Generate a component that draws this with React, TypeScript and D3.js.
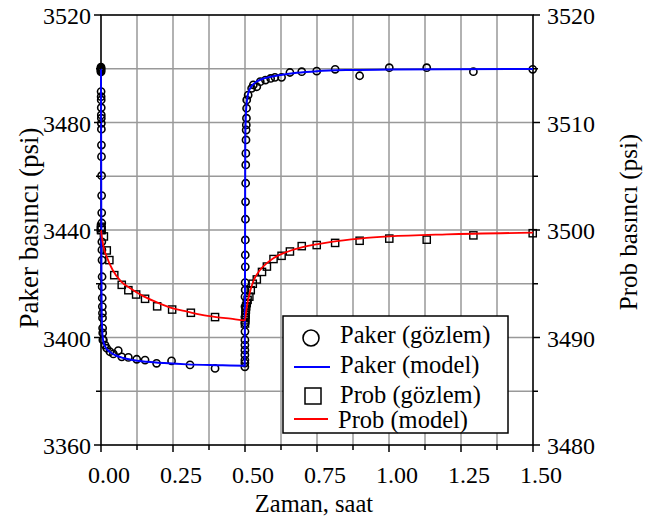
import React from 'react';
import * as d3 from 'd3';

// ---------- data ----------
const xTickValues = [0, 0.25, 0.5, 0.75, 1.0, 1.25, 1.5];
const xTickLabels = ['0.00', '0.25', '0.50', '0.75', '1.00', '1.25', '1.50'];
const xGridValues = [0.125, 0.25, 0.375, 0.5, 0.625, 0.75, 0.875, 1.0, 1.125, 1.25, 1.375];
const xMinorTicks = [0.125, 0.375, 0.625, 0.875, 1.125, 1.375];
const leftTickValues = [3360, 3400, 3440, 3480, 3520];
const leftMinorTicks = [3380, 3420, 3460, 3500];
const leftGridValues = [3380, 3400, 3420, 3440, 3460, 3480, 3500];
const rightTickValues = [3480, 3490, 3500, 3510, 3520];
const rightMinorTicks = [3485, 3495, 3505, 3515];

const pakerObsT = [
  0, 0, 0, 0, 0, 0, 0.0003, 0.0005, 0.0007, 0.0009, 0.001, 0.0011, 0.0012, 0.0013, 0.0015, 0.0017,
  0.002, 0.0022, 0.0025, 0.0027, 0.003, 0.0032, 0.0035, 0.0038, 0.004, 0.0043, 0.0046, 0.005, 0.0053,
  0.0056, 0.006, 0.0065,
  0.008, 0.014, 0.020, 0.031, 0.043, 0.060, 0.072, 0.095, 0.124, 0.153, 0.193, 0.245, 0.309, 0.396,
  0.4995, 0.4995, 0.4996, 0.4996, 0.4997, 0.4997, 0.4998, 0.4999, 0.5, 0.5, 0.5, 0.5, 0.5005, 0.5005,
  0.501, 0.501, 0.5012, 0.5015, 0.502, 0.5023, 0.5026, 0.503, 0.5035, 0.504, 0.5045, 0.505, 0.5055,
  0.506, 0.511, 0.523, 0.529, 0.541, 0.553, 0.571, 0.589, 0.604, 0.627, 0.656, 0.697, 0.749, 0.813,
  0.898, 1.001, 1.131, 1.293, 1.499,
];
const pakerObsP = [
  3500.6, 3500.3, 3499.9, 3499.5, 3499.2, 3498.8, 3491.5, 3489.6, 3488.4, 3485.5, 3482.8, 3481.6,
  3479.7, 3477.5, 3471.6, 3467.3, 3460.2, 3452.8, 3446.4, 3442.6, 3435.6, 3432.6, 3428.8, 3422.6,
  3418.9, 3414.7, 3411.5, 3409.1, 3407.3, 3403.5, 3401.7, 3399.1,
  3399.1, 3397.2, 3396.0, 3394.7, 3393.9, 3395.1, 3392.8, 3392.6, 3391.9, 3391.6, 3390.4, 3391.3,
  3389.8, 3388.5,
  3389.1, 3390.5, 3391.6, 3393.5, 3395.3, 3397.2, 3399.1, 3402.2, 3405.4, 3407.7, 3411.5, 3415.2,
  3417.7, 3420.4, 3426.3, 3430.7, 3436.3, 3444.0, 3450.5, 3457.4, 3464.2, 3468.5, 3473.5, 3477.2,
  3479.1, 3481.6, 3485.3,
  3488.4, 3490.2, 3492.7, 3494.0, 3493.3, 3495.2, 3495.8, 3496.4, 3496.8, 3496.8, 3498.6, 3498.9,
  3499.1, 3499.8, 3497.4, 3500.4, 3500.4, 3498.9, 3499.8,
];

const pakerModelT = [
  0, 0.0005, 0.001, 0.002, 0.004, 0.008, 0.015, 0.03, 0.05, 0.077, 0.11, 0.16, 0.22, 0.3, 0.4, 0.499,
  0.4995, 0.5, 0.5005, 0.501, 0.503, 0.506, 0.51, 0.516, 0.525, 0.54, 0.56, 0.59, 0.63, 0.68, 0.75,
  0.85, 1.0, 1.2, 1.5,
];
const pakerModelP = [
  3500, 3470, 3440, 3412, 3403, 3398.5, 3396.5, 3394.7, 3393.4, 3392.4, 3391.6, 3391.0, 3390.5,
  3390.0, 3389.7, 3389.5,
  3400, 3425, 3455, 3474, 3483, 3487.5, 3490.3, 3492.3, 3493.8, 3495.2, 3496.2, 3497.0, 3497.8,
  3498.5, 3499.1, 3499.5, 3499.7, 3499.85, 3499.9,
];

const probObsT = [
  0, 0, 0.001, 0.002, 0.010, 0.020, 0.029, 0.046, 0.072, 0.095, 0.122, 0.153, 0.195, 0.247, 0.312,
  0.396,
  0.5, 0.5005, 0.501, 0.5015, 0.502, 0.503, 0.504, 0.506, 0.509, 0.515, 0.52, 0.527, 0.541, 0.559,
  0.576, 0.599, 0.627, 0.656, 0.697, 0.749, 0.813, 0.898, 1.001, 1.131, 1.293, 1.499,
];
const probObsP = [
  3500.2, 3500.0, 3500.3, 3500.0, 3499.4, 3498.1, 3497.2, 3495.8, 3494.9, 3494.4, 3494.0, 3493.6,
  3492.9, 3492.6, 3492.3, 3491.9,
  3491.3, 3491.6, 3491.8, 3492.1, 3492.3, 3492.6, 3492.9, 3493.2, 3493.5, 3493.8, 3494.4, 3495.0,
  3495.4, 3496.1, 3496.6, 3497.3, 3497.6, 3498.0, 3498.5, 3498.6, 3498.8, 3499.0, 3499.2, 3499.1,
  3499.5, 3499.7,
];

const probModelT = [
  0, 0.005, 0.01, 0.02, 0.04, 0.07, 0.1, 0.15, 0.2, 0.25, 0.3, 0.35, 0.4, 0.45, 0.5, 0.505, 0.51,
  0.52, 0.53, 0.55, 0.575, 0.6, 0.65, 0.7, 0.8, 0.9, 1.0, 1.2, 1.5,
];
const probModelP = [
  3500, 3499, 3498.3, 3497.5, 3496.3, 3495.2, 3494.6, 3493.8, 3493.2, 3492.7, 3492.4, 3492.1,
  3491.9, 3491.75, 3491.6, 3492.6, 3493.4, 3494.5, 3495.3, 3496.2, 3496.9, 3497.4, 3498.0, 3498.4,
  3498.9, 3499.2, 3499.4, 3499.6, 3499.75,
];

const legendLabels = ['Paker (gözlem)', 'Paker (model)', 'Prob (gözlem)', 'Prob (model)'];
const xTitle = 'Zaman, saat';
const leftTitle = 'Paker basıncı (psi)';
const rightTitle = 'Prob basıncı (psi)';

// ---------- layout ----------
const W = 646;
const H = 522;
const L = 101;
const R = 533;
const T = 15;
const B = 445;
const FONT = 'Liberation Serif';
const FS = 24;

const ts = (size: number): React.CSSProperties => ({ fontFamily: FONT, fontSize: size });

export default function App() {
  const x = d3.scaleLinear().domain([0, 1.5]).range([L, R]);
  const yL = d3.scaleLinear().domain([3360, 3520]).range([B, T]);
  const yR = d3.scaleLinear().domain([3480, 3520]).range([B, T]);

  const pakerLine = d3
    .line<number>()
    .x((_, i) => x(pakerModelT[i]))
    .y((d) => yL(d))
    .curve(d3.curveMonotoneX);
  const probLine = d3
    .line<number>()
    .x((_, i) => x(probModelT[i]))
    .y((d) => yR(d))
    .curve(d3.curveMonotoneX);

  const grid = '#999999';

  return (
    <svg
      width={W}
      height={H}
      style={{ position: 'absolute', left: 0, top: 0, display: 'block', background: '#fff', fontFamily: FONT }}
    >
      <defs>
        <clipPath id="plotClip">
          <rect x={L - 6} y={T - 6} width={R - L + 12} height={B - T + 12} />
        </clipPath>
      </defs>
      {/* grid */}
      {xGridValues.map((v) => (
        <line key={'gx' + v} x1={x(v)} x2={x(v)} y1={T} y2={B} stroke={grid} strokeWidth={1.5} />
      ))}
      {leftGridValues.map((v) => (
        <line key={'gy' + v} x1={L} x2={R} y1={yL(v)} y2={yL(v)} stroke={grid} strokeWidth={1.5} />
      ))}

      {/* frame */}
      <rect x={L} y={T} width={R - L} height={B - T} fill="none" stroke="#000" strokeWidth={1.6} />

      {/* observed markers */}
      <g clipPath="url(#plotClip)">
        {pakerObsP.map((p, i) => (
          <circle
            key={'pc' + i}
            cx={x(pakerObsT[i])}
            cy={yL(p)}
            r={3.6}
            fill="none"
            stroke="#000"
            strokeWidth={1.6}
          />
        ))}
        {probObsP.map((p, i) => (
          <rect
            key={'ps' + i}
            x={x(probObsT[i]) - 3.6}
            y={yR(p) - 3.6}
            width={7.2}
            height={7.2}
            fill="none"
            stroke="#000"
            strokeWidth={1.4}
          />
        ))}
        {/* model lines */}
        <path d={pakerLine(pakerModelP) || ''} fill="none" stroke="#0000ff" strokeWidth={2} />
        <path d={probLine(probModelP) || ''} fill="none" stroke="#ff0000" strokeWidth={1.8} />
      </g>

      {/* bottom axis */}
      {xTickValues.map((v, i) => (
        <g key={'xt' + v}>
          <line x1={x(v)} x2={x(v)} y1={B} y2={B + 7} stroke="#000" strokeWidth={1.5} />
          <text x={x(v) + 8} y={483} textAnchor="middle" style={ts(FS)}>
            {xTickLabels[i]}
          </text>
        </g>
      ))}
      {xMinorTicks.map((v) => (
        <line key={'xm' + v} x1={x(v)} x2={x(v)} y1={B} y2={B + 5} stroke="#000" strokeWidth={1.5} />
      ))}
      <text x={314} y={512} textAnchor="middle" style={ts(24.5)}>
        {xTitle}
      </text>

      {/* left axis */}
      {leftTickValues.map((v) => (
        <g key={'lt' + v}>
          <line x1={L - 7} x2={L} y1={yL(v)} y2={yL(v)} stroke="#000" strokeWidth={1.5} />
          <text x={L - 10} y={yL(v) + 9} textAnchor="end" style={ts(FS)}>
            {v}
          </text>
        </g>
      ))}
      {leftMinorTicks.map((v) => (
        <line key={'lm' + v} x1={L - 5} x2={L} y1={yL(v)} y2={yL(v)} stroke="#000" strokeWidth={1.5} />
      ))}
      <text transform={`translate(38, 228) rotate(-90)`} textAnchor="middle" style={ts(27)}>
        {leftTitle}
      </text>

      {/* right axis */}
      {rightTickValues.map((v) => (
        <g key={'rt' + v}>
          <line x1={R} x2={R + 7} y1={yR(v)} y2={yR(v)} stroke="#000" strokeWidth={1.5} />
          <text x={R + 14} y={yR(v) + 9} textAnchor="start" style={ts(FS)}>
            {v}
          </text>
        </g>
      ))}
      {rightMinorTicks.map((v) => (
        <line key={'rm' + v} x1={R} x2={R + 5} y1={yR(v)} y2={yR(v)} stroke="#000" strokeWidth={1.5} />
      ))}
      <text transform={`translate(637, 222) rotate(-90)`} textAnchor="middle" style={ts(25)}>
        {rightTitle}
      </text>

      {/* legend */}
      <g>
        <rect x={283} y={316} width={225} height={117} fill="#fff" stroke="#000" strokeWidth={1.5} />
        <circle cx={311} cy={338} r={8} fill="none" stroke="#000" strokeWidth={1.6} />
        <text x={340} y={343} style={ts(24.5)}>
          {legendLabels[0]}
        </text>
        <line x1={294} x2={330} y1={367} y2={367} stroke="#0000ff" strokeWidth={2} />
        <text x={340} y={373} style={ts(24.5)}>
          {legendLabels[1]}
        </text>
        <rect x={305} y={388} width={16} height={16} fill="none" stroke="#000" strokeWidth={1.5} />
        <text x={340} y={403} style={ts(24.5)}>
          {legendLabels[2]}
        </text>
        <line x1={294} x2={328} y1={419} y2={419} stroke="#ff0000" strokeWidth={2} />
        <text x={338} y={428} style={ts(24.5)}>
          {legendLabels[3]}
        </text>
      </g>
    </svg>
  );
}
